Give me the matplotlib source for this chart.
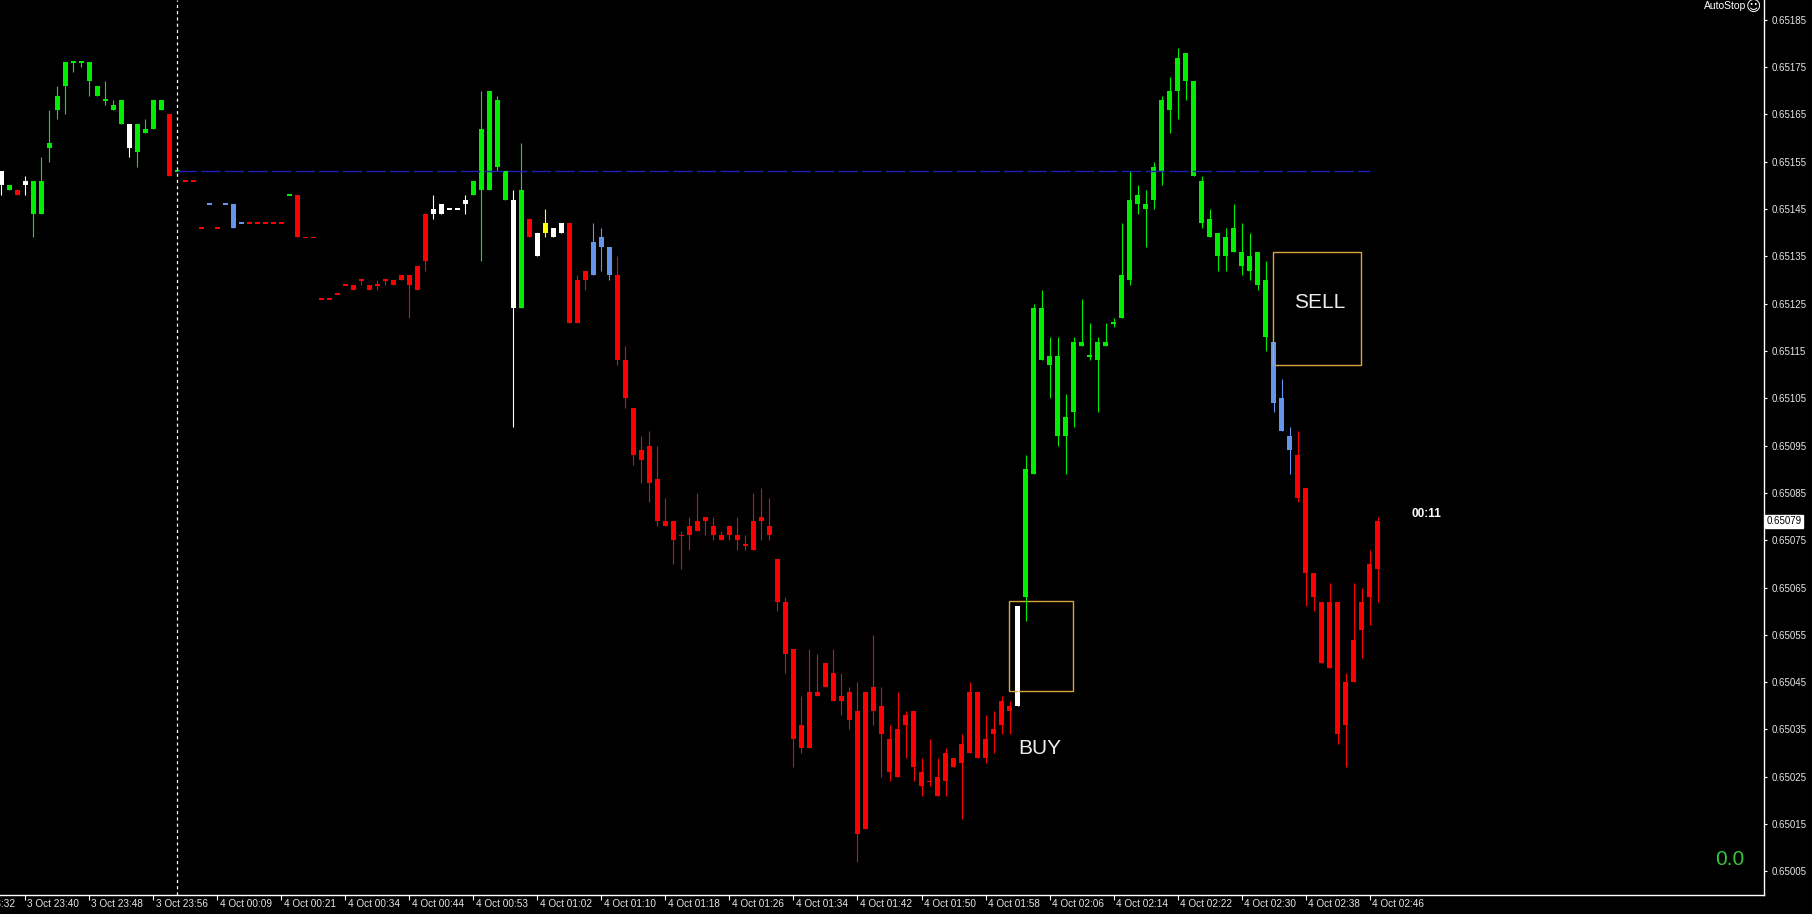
import matplotlib
matplotlib.use('Agg')
import matplotlib.pyplot as plt
from matplotlib.patches import Rectangle
from matplotlib import transforms
import numpy as np

plt.rcParams['font.family'] = ['Liberation Sans', 'DejaVu Sans']

# 1-minute candles, quotes
opens = [
    0.65153, 0.65149, 0.65149, 0.65151, 0.65144, 0.65144, 0.65158, 0.65166, 0.65171, 0.65176,
    0.65176, 0.65172, 0.65169, 0.65168, 0.65166, 0.65163, 0.65163, 0.65157, 0.65161, 0.65162,
    0.65166, 0.65165, 0.65153, 0.65151, 0.65151, 0.65141, 0.65146, 0.65141, 0.65146, 0.65146,
    0.65142, 0.65142, 0.65142, 0.65142, 0.65142, 0.65142, 0.65148, 0.65148, 0.65139, 0.65139,
    0.65126, 0.65126, 0.65127, 0.65129, 0.65129, 0.65130, 0.65129, 0.65129, 0.65130, 0.65130,
    0.65131, 0.65131, 0.65133, 0.65144, 0.65145, 0.65146, 0.65145, 0.65145, 0.65147, 0.65148,
    0.65149, 0.65149, 0.65154, 0.65147, 0.65147, 0.65124, 0.65143, 0.65140, 0.65140, 0.65141,
    0.65142, 0.65142, 0.65130, 0.65132, 0.65138, 0.65139, 0.65137, 0.65131, 0.65113, 0.65103,
    0.65094, 0.65095, 0.65088, 0.65079, 0.65079, 0.65076, 0.65078, 0.65079, 0.65080, 0.65078,
    0.65076, 0.65078, 0.65076, 0.65074, 0.65079, 0.65080, 0.65078, 0.65071, 0.65062, 0.65052,
    0.65036, 0.65043, 0.65043, 0.65049, 0.65047, 0.65042, 0.65043, 0.65039, 0.65043, 0.65044,
    0.65040, 0.65033, 0.65035, 0.65038, 0.65039, 0.65026, 0.65024, 0.65025, 0.65030, 0.65029,
    0.65032, 0.65043, 0.65043, 0.65033, 0.65035, 0.65041, 0.65040, 0.65040, 0.65063, 0.65089,
    0.65113, 0.65112, 0.65097, 0.65097, 0.65102, 0.65116, 0.65114, 0.65113, 0.65116, 0.65121,
    0.65122, 0.65130, 0.65146, 0.65145, 0.65147, 0.65153, 0.65166, 0.65170, 0.65172, 0.65152,
    0.65142, 0.65139, 0.65135, 0.65135, 0.65136, 0.65133, 0.65132, 0.65129, 0.65118, 0.65117,
    0.65105, 0.65097, 0.65093, 0.65086, 0.65068, 0.65062, 0.65062, 0.65062, 0.65045, 0.65054,
    0.65062, 0.65070, 0.65069,
]
highs = [
    0.65153, 0.65150, 0.65149, 0.65152, 0.65151, 0.65156, 0.65166, 0.65171, 0.65176, 0.65176,
    0.65176, 0.65176, 0.65171, 0.65172, 0.65168, 0.65168, 0.65163, 0.65163, 0.65164, 0.65168,
    0.65168, 0.65165, 0.65153, 0.65151, 0.65151, 0.65141, 0.65146, 0.65141, 0.65146, 0.65146,
    0.65142, 0.65142, 0.65142, 0.65142, 0.65142, 0.65142, 0.65148, 0.65148, 0.65139, 0.65139,
    0.65126, 0.65126, 0.65127, 0.65129, 0.65129, 0.65130, 0.65129, 0.65130, 0.65130, 0.65130,
    0.65131, 0.65131, 0.65133, 0.65144, 0.65148, 0.65146, 0.65145, 0.65145, 0.65148, 0.65151,
    0.65170, 0.65170, 0.65169, 0.65153, 0.65149, 0.65159, 0.65143, 0.65140, 0.65145, 0.65141,
    0.65142, 0.65142, 0.65131, 0.65132, 0.65142, 0.65141, 0.65137, 0.65135, 0.65116, 0.65103,
    0.65097, 0.65098, 0.65095, 0.65084, 0.65079, 0.65077, 0.65080, 0.65085, 0.65080, 0.65080,
    0.65077, 0.65078, 0.65080, 0.65076, 0.65085, 0.65086, 0.65084, 0.65071, 0.65063, 0.65052,
    0.65042, 0.65052, 0.65051, 0.65049, 0.65052, 0.65047, 0.65044, 0.65045, 0.65043, 0.65055,
    0.65044, 0.65036, 0.65043, 0.65039, 0.65039, 0.65029, 0.65033, 0.65029, 0.65031, 0.65029,
    0.65034, 0.65045, 0.65043, 0.65038, 0.65039, 0.65042, 0.65041, 0.65061, 0.65093, 0.65125,
    0.65128, 0.65118, 0.65118, 0.65106, 0.65118, 0.65126, 0.65121, 0.65118, 0.65121, 0.65122,
    0.65142, 0.65153, 0.65150, 0.65149, 0.65155, 0.65169, 0.65173, 0.65179, 0.65178, 0.65172,
    0.65152, 0.65145, 0.65140, 0.65141, 0.65146, 0.65142, 0.65140, 0.65136, 0.65134, 0.65117,
    0.65109, 0.65099, 0.65098, 0.65086, 0.65068, 0.65062, 0.65066, 0.65062, 0.65047, 0.65066,
    0.65065, 0.65073, 0.65080,
]
lows = [
    0.65148, 0.65149, 0.65148, 0.65148, 0.65139, 0.65144, 0.65155, 0.65164, 0.65165, 0.65174,
    0.65175, 0.65169, 0.65169, 0.65167, 0.65166, 0.65163, 0.65156, 0.65154, 0.65161, 0.65162,
    0.65166, 0.65152, 0.65153, 0.65151, 0.65151, 0.65141, 0.65146, 0.65141, 0.65146, 0.65141,
    0.65142, 0.65142, 0.65142, 0.65142, 0.65142, 0.65142, 0.65148, 0.65139, 0.65139, 0.65139,
    0.65126, 0.65126, 0.65127, 0.65129, 0.65128, 0.65129, 0.65128, 0.65128, 0.65129, 0.65129,
    0.65130, 0.65122, 0.65128, 0.65132, 0.65143, 0.65144, 0.65145, 0.65145, 0.65144, 0.65148,
    0.65134, 0.65149, 0.65153, 0.65147, 0.65099, 0.65124, 0.65139, 0.65135, 0.65139, 0.65139,
    0.65140, 0.65121, 0.65121, 0.65128, 0.65131, 0.65132, 0.65130, 0.65112, 0.65103, 0.65091,
    0.65087, 0.65083, 0.65078, 0.65078, 0.65070, 0.65069, 0.65073, 0.65077, 0.65076, 0.65075,
    0.65075, 0.65075, 0.65073, 0.65073, 0.65073, 0.65075, 0.65075, 0.65060, 0.65047, 0.65027,
    0.65030, 0.65031, 0.65042, 0.65044, 0.65041, 0.65038, 0.65035, 0.65007, 0.65014, 0.65036,
    0.65025, 0.65024, 0.65025, 0.65029, 0.65024, 0.65021, 0.65023, 0.65021, 0.65021, 0.65027,
    0.65016, 0.65030, 0.65029, 0.65028, 0.65030, 0.65034, 0.65034, 0.65040, 0.65058, 0.65089,
    0.65113, 0.65105, 0.65095, 0.65089, 0.65099, 0.65116, 0.65113, 0.65102, 0.65116, 0.65120,
    0.65122, 0.65129, 0.65144, 0.65137, 0.65145, 0.65150, 0.65161, 0.65164, 0.65168, 0.65152,
    0.65141, 0.65139, 0.65132, 0.65132, 0.65136, 0.65131, 0.65130, 0.65128, 0.65115, 0.65102,
    0.65098, 0.65089, 0.65083, 0.65061, 0.65060, 0.65049, 0.65048, 0.65032, 0.65027, 0.65045,
    0.65050, 0.65057, 0.65062,
]
closes = [
    0.65150, 0.65150, 0.65148, 0.65150, 0.65151, 0.65151, 0.65159, 0.65169, 0.65176, 0.65176,
    0.65176, 0.65176, 0.65171, 0.65168, 0.65167, 0.65168, 0.65158, 0.65163, 0.65162, 0.65168,
    0.65168, 0.65152, 0.65153, 0.65151, 0.65151, 0.65141, 0.65146, 0.65141, 0.65146, 0.65141,
    0.65142, 0.65142, 0.65142, 0.65142, 0.65142, 0.65142, 0.65148, 0.65139, 0.65139, 0.65139,
    0.65126, 0.65126, 0.65127, 0.65129, 0.65128, 0.65130, 0.65128, 0.65129, 0.65130, 0.65129,
    0.65130, 0.65129, 0.65128, 0.65134, 0.65144, 0.65144, 0.65145, 0.65145, 0.65146, 0.65151,
    0.65162, 0.65170, 0.65168, 0.65153, 0.65124, 0.65149, 0.65139, 0.65135, 0.65142, 0.65139,
    0.65140, 0.65121, 0.65121, 0.65130, 0.65131, 0.65137, 0.65131, 0.65113, 0.65105, 0.65093,
    0.65092, 0.65087, 0.65079, 0.65078, 0.65075, 0.65076, 0.65076, 0.65077, 0.65079, 0.65076,
    0.65075, 0.65076, 0.65075, 0.65074, 0.65073, 0.65079, 0.65076, 0.65062, 0.65051, 0.65033,
    0.65031, 0.65031, 0.65042, 0.65044, 0.65041, 0.65041, 0.65037, 0.65013, 0.65014, 0.65039,
    0.65034, 0.65026, 0.65025, 0.65036, 0.65027, 0.65023, 0.65024, 0.65021, 0.65024, 0.65027,
    0.65028, 0.65030, 0.65029, 0.65029, 0.65034, 0.65036, 0.65039, 0.65061, 0.65090, 0.65124,
    0.65124, 0.65114, 0.65114, 0.65101, 0.65117, 0.65117, 0.65114, 0.65117, 0.65117, 0.65121,
    0.65131, 0.65147, 0.65148, 0.65146, 0.65154, 0.65168, 0.65170, 0.65177, 0.65178, 0.65172,
    0.65151, 0.65143, 0.65140, 0.65139, 0.65141, 0.65136, 0.65135, 0.65136, 0.65130, 0.65104,
    0.65098, 0.65094, 0.65084, 0.65068, 0.65063, 0.65049, 0.65048, 0.65034, 0.65036, 0.65045,
    0.65056, 0.65063, 0.65079,
]
# indicator colour of each candle: g green, r red, w white, b blue, y yellow
bar_colors = ("wgrwgggggg" "ggggggwggg" "grgrrrbrbb" "brrrrrgrrr" "rrrrrrrrrr"
              "rrrrwwwwwg" "ggggwgrwyw" "wrrrbbbrrr" "rrrrrrrrrr" "rrrrrrrrrr"
              "rrrrrrrrrr" "rrrrrrrrrr" "rrrrrrrwgg" "gggggggggg" "gggggggggg"
              "gggggggggb" "bbrrrrrrrr" "rrr")

tick_pos = [-5, 3, 11, 19, 27, 35, 43, 51, 59, 67, 75, 83, 91, 99, 107, 115,
            123, 131, 139, 147, 155, 163, 171]
tick_labels = ['3 Oct 23:32', '3 Oct 23:40', '3 Oct 23:48', '3 Oct 23:56',
               '4 Oct 00:09', '4 Oct 00:21', '4 Oct 00:34', '4 Oct 00:44',
               '4 Oct 00:53', '4 Oct 01:02', '4 Oct 01:10', '4 Oct 01:18',
               '4 Oct 01:26', '4 Oct 01:34', '4 Oct 01:42', '4 Oct 01:50',
               '4 Oct 01:58', '4 Oct 02:06', '4 Oct 02:14', '4 Oct 02:22',
               '4 Oct 02:30', '4 Oct 02:38', '4 Oct 02:46']
price_ticks = [0.65005, 0.65015, 0.65025, 0.65035, 0.65045, 0.65055, 0.65065,
               0.65075, 0.65085, 0.65095, 0.65105, 0.65115, 0.65125, 0.65135,
               0.65145, 0.65155, 0.65165, 0.65175, 0.65185]

level_price = 0.65153
day_start = 22
last_price = 0.65079

palette = {'g': '#00ee00', 'r': '#ff0000', 'w': '#ffffff',
           'b': '#6495ed', 'y': '#ffff00'}

fig = plt.figure(figsize=(18.12, 9.14), dpi=100, facecolor='black')
ax = fig.add_axes([0, 19 / 914, 1764 / 1812, 895 / 914])
ax.set_facecolor('black')

x = np.arange(len(opens))
o = np.array(opens)
c = np.array(closes)
cols = [palette[ch] for ch in bar_colors]

# wicks
ax.vlines(x, lows, highs, colors=cols, linewidth=0.8)

# bodies, flat bars drawn as a thin dash
bot = np.minimum(o, c)
hgt = np.abs(c - o)
flat = hgt < 1e-7
bot = np.where(flat, bot - 2e-6, bot)
hgt = np.where(flat, 4e-6, hgt)
ax.bar(x, hgt, bottom=bot, width=0.62, color=cols, linewidth=0)

# day separator and level line
ax.axvline(day_start, color='white', linewidth=0.9, linestyle=(0, (2.5, 2.5)))
ax.hlines(level_price, day_start, 171, colors='#1f1fb8', linewidth=1.0,
          linestyles=(0, (14, 3)))

# signal boxes
ax.add_patch(Rectangle((125.9, 0.650432), 8.0, 0.00019, fill=False,
                       edgecolor='#d9a53f', linewidth=1.0))
ax.add_patch(Rectangle((158.9, 0.65112), 11.0, 0.00024, fill=False,
                       edgecolor='#d9a53f', linewidth=1.0))
ax.text(129.8, 0.65031, 'BUY', color='#eeeeee', fontsize=15,
        ha='center', va='center')
ax.text(164.8, 0.651253, 'SELL', color='#eeeeee', fontsize=15,
        ha='center', va='center')
ax.text(178.1, 0.650805, '00:11', color='white', fontsize=8.5,
        fontweight='bold', ha='center', va='center')
ax.text(0.9807, 0.040, '0.0', color='#3cc43c', fontsize=15,
        ha='center', va='center', transform=ax.transAxes)
fig.text(1746 / 1812, 1 - 1 / 914, 'AutoStop', color='white',
         fontsize=7.5, ha='right', va='top')
fig.text(1753 / 1812, 1 - 6 / 914, '\u263a', color='white',
         fontsize=10.5, ha='center', va='center', family='DejaVu Sans')

# ticks first, then limits (set_xticks would widen the view)
ax.yaxis.tick_right()
ax.set_yticks(price_ticks)
ax.set_yticklabels([f'{p:.5f}' for p in price_ticks])
ax.tick_params(axis='y', colors='white', labelcolor='#e6e6e6', labelsize=7,
               length=2.5, width=0.8, pad=3)

ax.set_xticks(tick_pos)
ax.set_xticklabels([])
ax.tick_params(axis='x', colors='white', length=3.5, width=0.8)

ax.set_xlim(-0.175, 220.3)
ax.set_ylim(0.65000, 0.651892)

# axes frame like the terminal: only right and bottom
for side in ['left', 'top']:
    ax.spines[side].set_visible(False)
for side in ['right', 'bottom']:
    ax.spines[side].set_color('white')
    ax.spines[side].set_linewidth(1.0)

blend = transforms.blended_transform_factory(ax.transData, ax.transAxes)
shift = transforms.ScaledTranslation(1.5 / 72, -3 / 72, fig.dpi_scale_trans)
for pos, lab in zip(tick_pos, tick_labels):
    ax.text(pos, 0, lab, transform=blend + shift, color='#e6e6e6',
            fontsize=7.2, ha='left', va='top', clip_on=False)

# current price tag
tag = transforms.blended_transform_factory(ax.transAxes, ax.transData)
ax.text(1.0015, last_price, f'{last_price:.5f}', transform=tag, color='black',
        fontsize=7, ha='left', va='center', clip_on=False,
        bbox=dict(boxstyle='square,pad=0.15', facecolor='white',
                  edgecolor='white'))

fig.savefig('out.png', dpi=100, facecolor='black')
